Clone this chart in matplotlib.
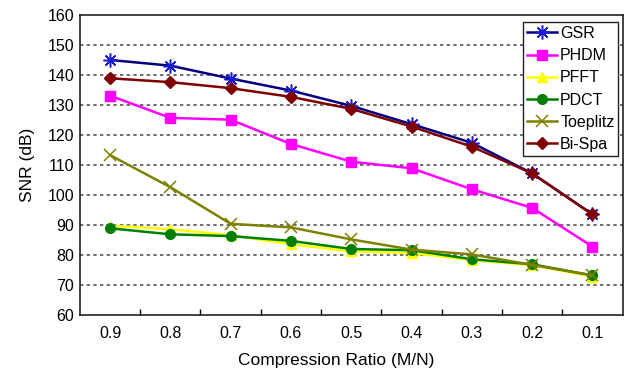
import matplotlib
matplotlib.use("Agg")
import matplotlib.pyplot as plt
from matplotlib.ticker import FixedLocator

plt.rcParams['font.family'] = ['Liberation Sans', 'DejaVu Sans']

ratios = ["0.9", "0.8", "0.7", "0.6", "0.5", "0.4", "0.3", "0.2", "0.1"]
gsr = [145.0, 143.1, 138.8, 134.8, 129.7, 123.6, 117.4, 107.2, 93.6]
phdm = [133.1, 125.7, 125.1, 117.0, 111.1, 108.9, 101.9, 95.7, 82.8]
pfft = [89.8, 88.6, 86.6, 83.6, 81.2, 80.7, 78.3, 76.6, 72.8]
pdct = [88.9, 86.9, 86.3, 84.7, 82.0, 81.6, 78.6, 76.9, 73.2]
toeplitz = [113.3, 102.6, 90.4, 89.2, 85.2, 81.8, 80.2, 76.7, 73.2]
bispa = [138.9, 137.6, 135.6, 132.7, 128.7, 122.8, 116.1, 107.2, 93.5]
yticks = [60, 70, 80, 90, 100, 110, 120, 130, 140, 150, 160]

fig = plt.figure(figsize=(6.34, 3.70), dpi=100)
ax = fig.add_axes([0.126, 0.1486, 0.856, 0.811])

x = list(range(len(ratios)))

for yv in yticks[1:-1]:
    ax.axhline(yv, color='#555555', linestyle=(0, (2, 2)), linewidth=1.2, zorder=1)

ax.plot(x, gsr, color='#000080', marker=(8, 2, 0), markersize=10, markeredgewidth=1.1,
        markeredgecolor='#1a1ad0', linewidth=1.8, label='GSR', zorder=3)
ax.plot(x, phdm, color='#ff00ff', marker='s', markersize=7, linewidth=1.8, label='PHDM', zorder=3)
ax.plot(x, pfft, color='#ffff00', marker='^', markersize=7, linewidth=1.8, label='PFFT', zorder=3)
ax.plot(x, pdct, color='#008000', marker='o', markersize=7, linewidth=1.8, label='PDCT', zorder=3)
ax.plot(x, toeplitz, color='#808000', marker='x', markersize=9, markeredgewidth=1.1,
        linewidth=1.8, label='Toeplitz', zorder=3)
ax.plot(x, bispa, color='#800000', marker='D', markersize=6, linewidth=1.8, label='Bi-Spa', zorder=3)

ax.set_xlim(-0.5, len(ratios) - 0.5)
ax.set_ylim(60, 160)
ax.set_yticks(yticks)
ax.set_xticks(x)
ax.set_xticklabels(ratios)
ax.xaxis.set_minor_locator(FixedLocator([i + 0.5 for i in range(len(ratios) - 1)]))
ax.tick_params(axis='x', which='major', length=0, labelsize=11.5, pad=8)
ax.tick_params(axis='x', which='minor', length=4, direction='in', width=1)
ax.tick_params(axis='y', which='major', length=0, labelsize=11.5, pad=4)
for s in ax.spines.values():
    s.set_linewidth(1.2)
    s.set_color('#222222')

ax.set_xlabel('Compression Ratio (M/N)', fontsize=12.5)
ax.xaxis.set_label_coords(0.472, -0.125)
ax.set_ylabel('SNR (dB)', fontsize=12.5, labelpad=9)

leg = ax.legend(loc='upper right', bbox_to_anchor=(0.9923, 0.9765), fontsize=11.5,
                frameon=True, fancybox=False, edgecolor='#222222', framealpha=1,
                handlelength=1.9, handletextpad=0.2, borderpad=0.25, labelspacing=0.45,
                borderaxespad=0)
leg.get_frame().set_linewidth(1.0)

fig.savefig('out.png', dpi=100)
